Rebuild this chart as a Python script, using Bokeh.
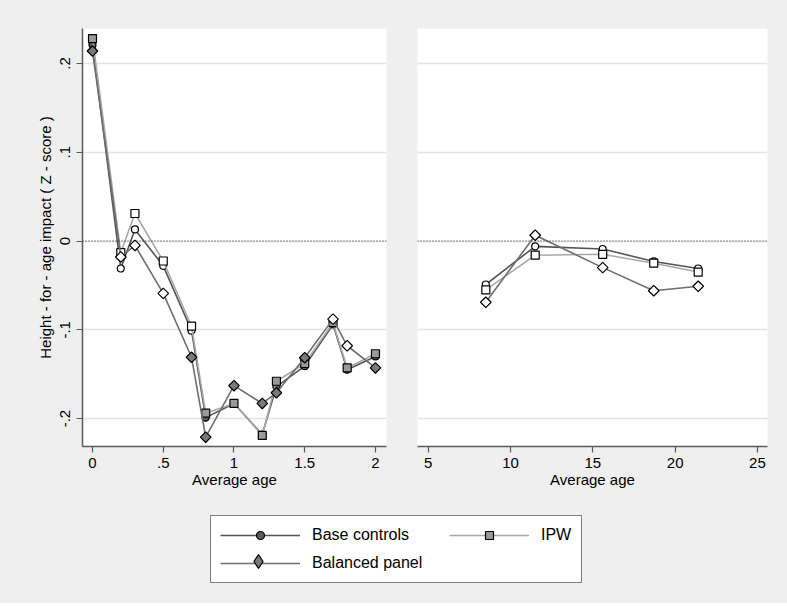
from bokeh.plotting import figure
from bokeh.layouts import column, row
from bokeh.models import (Range1d, FixedTicker, Span, Legend, LegendItem,
                          ColumnDataSource)
from bokeh.core.properties import value
from bokeh.embed import file_html
from bokeh.resources import INLINE
import math

# ---------------- data ----------------
x_left = [0, 0.2, 0.3, 0.5, 0.7, 0.8, 1.0, 1.2, 1.3, 1.5, 1.7, 1.8, 2.0]
base_left = [0.221, -0.031, 0.013, -0.028, -0.101, -0.199, -0.183, -0.218, -0.164, -0.141, -0.094, -0.145, -0.130]
ipw_left = [0.228, -0.013, 0.031, -0.0225, -0.096, -0.194, -0.183, -0.219, -0.158, -0.138, -0.092, -0.143, -0.127]
bal_left = [0.214, -0.018, -0.005, -0.059, -0.131, -0.221, -0.163, -0.183, -0.171, -0.1315, -0.088, -0.118, -0.143]
base_sig_left = [1, 0, 0, 0, 0, 1, 1, 1, 1, 1, 1, 1, 1]
ipw_sig_left = [1, 0, 0, 0, 0, 1, 1, 1, 1, 1, 1, 1, 1]
bal_sig_left = [1, 0, 0, 0, 1, 1, 1, 1, 1, 1, 0, 0, 1]

x_right = [8.5, 11.5, 15.6, 18.7, 21.4]
base_right = [-0.049, -0.006, -0.009, -0.023, -0.031]
ipw_right = [-0.055, -0.016, -0.015, -0.025, -0.035]
bal_right = [-0.069, 0.0065, -0.030, -0.056, -0.051]
base_sig_right = [0, 0, 0, 0, 0]
ipw_sig_right = [0, 0, 0, 0, 0]
bal_sig_right = [0, 0, 0, 0, 0]

y_ticks = [-0.2, -0.1, 0, 0.1, 0.2]
y_tick_labels = ["-.2", "-.1", "0", ".1", ".2"]
x_ticks_left = [0, 0.5, 1, 1.5, 2]
x_tick_labels_left = ["0", ".5", "1", "1.5", "2"]
x_ticks_right = [5, 10, 15, 20, 25]
x_tick_labels_right = ["5", "10", "15", "20", "25"]

series_names = ["Base controls", "IPW", "Balanced panel"]

# ---------------- style ----------------
FONT = "Liberation Sans"
BG = "#efefef"
GRID = "#e4e4e4"
AXIS = "#5a5a5a"
styles = {
    "Base controls": dict(line="#555555", fill="#5c5c5c", marker="circle", size=7, angle=0),
    "IPW": dict(line="#a8a8a8", fill="#9a9a9a", marker="square", size=8, angle=0),
    "Balanced panel": dict(line="#6e6e6e", fill="#7a7a7a", marker="square", size=7.5, angle=math.pi / 4),
}


def style_fig(p, xticks, xlabels, show_y):
    p.background_fill_color = "white"
    p.border_fill_color = BG
    p.outline_line_color = None
    p.xgrid.visible = False
    p.ygrid.ticker = FixedTicker(ticks=y_ticks)
    p.ygrid.grid_line_color = GRID
    p.ygrid.grid_line_width = 1.5
    xa = p.xaxis[0]
    xa.ticker = FixedTicker(ticks=xticks)
    xa.major_label_overrides = {t: l for t, l in zip(xticks, xlabels)}
    xa.axis_label = "Average age"
    xa.axis_label_text_font = FONT
    xa.axis_label_text_font_size = "15px"
    xa.axis_label_text_font_style = "normal"
    xa.axis_label_text_color = "black"
    xa.axis_label_standoff = 0
    xa.major_label_text_font = FONT
    xa.major_label_text_font_size = "15px"
    xa.major_label_text_color = "black"
    xa.major_label_standoff = 5
    xa.axis_line_color = AXIS
    xa.axis_line_width = 1.5
    xa.major_tick_line_color = AXIS
    xa.major_tick_line_width = 1.2
    xa.major_tick_out = 6
    xa.major_tick_in = 0
    xa.minor_tick_out = 0
    xa.minor_tick_in = 0
    ya = p.yaxis[0]
    if show_y:
        ya.ticker = FixedTicker(ticks=y_ticks)
        ya.major_label_overrides = {t: l for t, l in zip(y_ticks, y_tick_labels)}
        ya.major_label_orientation = "vertical"
        ya.axis_label = "Height - for - age impact ( Z - score )"
        ya.axis_label_text_font = FONT
        ya.axis_label_text_font_size = "15px"
        ya.axis_label_text_font_style = "normal"
        ya.axis_label_text_color = "black"
        ya.axis_label_standoff = 4
        ya.major_label_text_font = FONT
        ya.major_label_text_font_size = "15px"
        ya.major_label_text_color = "black"
        ya.major_label_standoff = 6
        ya.axis_line_color = AXIS
        ya.axis_line_width = 1.5
        ya.major_tick_line_color = AXIS
        ya.major_tick_line_width = 1.2
        ya.major_tick_out = 6
        ya.major_tick_in = 0
        ya.minor_tick_out = 0
        ya.minor_tick_in = 0
    else:
        ya.visible = False
    p.add_layout(Span(location=0, dimension="width", line_color="#222222",
                      line_width=1, line_dash="1 2"))


def draw_series(p, xs, ys, sig, name):
    st = styles[name]
    p.line(xs, ys, line_color=st["line"], line_width=1.6)
    fills = [st["fill"] if s else "white" for s in sig]
    src = ColumnDataSource(dict(x=xs, y=ys, f=fills))
    p.scatter("x", "y", source=src, marker=st["marker"], size=st["size"],
              angle=st["angle"], fill_color="f", line_color="black", line_width=1.2)


# ---------------- left panel ----------------
p1 = figure(width=400, height=495, output_backend="svg", toolbar_location=None,
            x_range=Range1d(-0.0707, 2.078), y_range=Range1d(-0.2315, 0.2394),
            min_border_left=82, min_border_right=14, min_border_top=28, min_border_bottom=49)
style_fig(p1, x_ticks_left, x_tick_labels_left, True)
draw_series(p1, x_left, base_left, base_sig_left, "Base controls")
draw_series(p1, x_left, ipw_left, ipw_sig_left, "IPW")
draw_series(p1, x_left, bal_left, bal_sig_left, "Balanced panel")

# ---------------- right panel ----------------
p2 = figure(width=387, height=495, output_backend="svg", toolbar_location=None,
            x_range=Range1d(4.35, 25.61), y_range=Range1d(-0.2315, 0.2394),
            min_border_left=17, min_border_right=20, min_border_top=28, min_border_bottom=49)
style_fig(p2, x_ticks_right, x_tick_labels_right, False)
draw_series(p2, x_right, base_right, base_sig_right, "Base controls")
draw_series(p2, x_right, ipw_right, ipw_sig_right, "IPW")
draw_series(p2, x_right, bal_right, bal_sig_right, "Balanced panel")

# ---------------- legend strip ----------------
# The legend strip views a range far away from the data, so only the legend shows.
p3 = figure(width=787, height=108, output_backend="svg", toolbar_location=None,
            x_range=Range1d(100, 101), y_range=Range1d(100, 101),
            x_axis_type=None, y_axis_type=None,
            min_border=0, min_border_left=0, min_border_right=0,
            min_border_top=0, min_border_bottom=0)
p3.background_fill_color = BG
p3.border_fill_color = BG
p3.outline_line_color = None
leg_series = {"Base controls": base_left, "IPW": ipw_left, "Balanced panel": bal_left}
lines = {}
marks = {}
for name in series_names:
    st = styles[name]
    lines[name] = p3.line(x_left, leg_series[name], line_color=st["line"], line_width=1.6)
    mk = "diamond" if name == "Balanced panel" else st["marker"]
    marks[name] = p3.scatter(x_left, leg_series[name], marker=mk, size=st["size"],
                             fill_color=st["fill"], line_color="black", line_width=1.2)

common = dict(glyph_width=80, label_standoff=12, spacing=8, padding=9, margin=0,
              label_height=20, label_text_font=FONT, label_text_font_size="16px",
              label_text_color="black")
legend_a = Legend(items=[LegendItem(label="Base controls",
                                    renderers=[lines["Base controls"], marks["Base controls"]]),
                         LegendItem(label="Balanced panel",
                                    renderers=[lines["Balanced panel"]])],
                  location=(210, 20), orientation="vertical", label_width=260, glyph_height=20,
                  border_line_color="black", border_line_width=1,
                  background_fill_color="white", background_fill_alpha=1.0, **common)
legend_b = Legend(items=[LegendItem(label="IPW", renderers=[lines["IPW"], marks["IPW"]])],
                  location=(449, 58), orientation="vertical", glyph_height=20,
                  border_line_color=None, background_fill_alpha=0.0, **common)
legend_c = Legend(items=[LegendItem(label=value(""), renderers=[marks["Balanced panel"]])],
                  location=(218, 25), orientation="vertical", glyph_height=34, glyph_width=80,
                  label_standoff=0, label_width=0, label_height=20, padding=8, margin=0,
                  label_text_font_size="1px",
                  border_line_color=None, background_fill_alpha=0.0)
p3.add_layout(legend_a, "center")
p3.add_layout(legend_b, "center")
p3.add_layout(legend_c, "center")

layout = column(row(p1, p2, spacing=0, styles={"background-color": BG}), p3, spacing=0,
                styles={"background-color": BG})
open("out.html", "w").write(file_html(layout, INLINE))
